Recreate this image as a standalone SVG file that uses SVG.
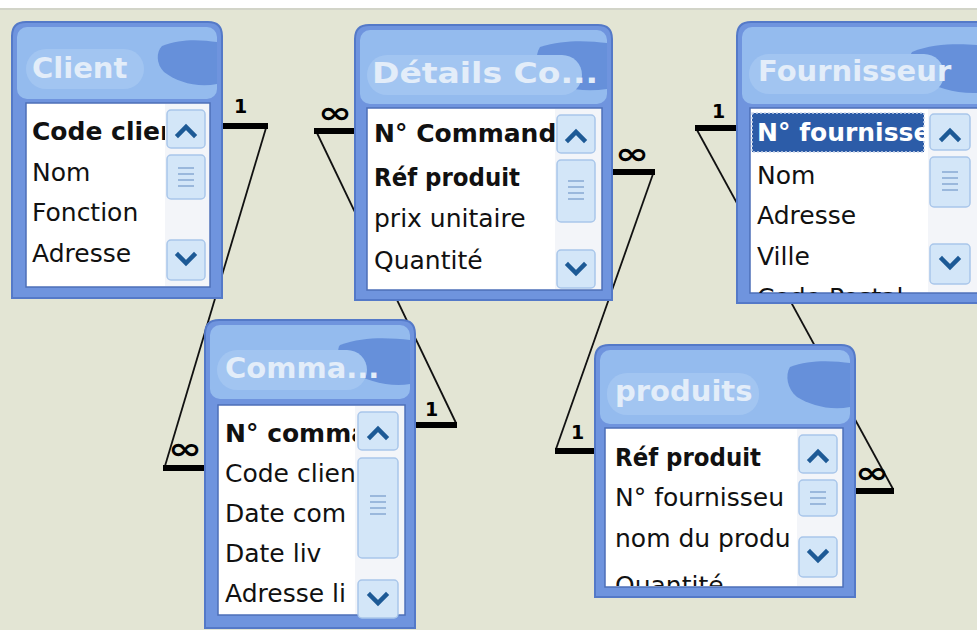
<svg xmlns="http://www.w3.org/2000/svg" width="977" height="630" viewBox="0 0 977 630">
<style>
.frame{fill:#6f94de;stroke:#5479c8;stroke-width:2}
.titlebg{fill:#94bbee}
.glow{fill:#a2c5f1}
.blotch{fill:#6690da}
.ttl{font-family:"DejaVu Sans",sans-serif;font-weight:bold;font-size:29px;fill:#e3edf9}
.list{fill:#fff;stroke:#4d6fb8;stroke-width:1.5}
.row{font-family:"DejaVu Sans",sans-serif;font-size:25px;fill:#111}
.key{font-weight:bold}
.sel{fill:#fff;font-weight:bold}
.selbg{fill:#2c5ca8;stroke:#c9d5ea;stroke-width:1.5;stroke-dasharray:2 2}
.sbtrack{fill:#f3f5f9}
.sbbtn{fill:#d3e6f8;stroke:#a9c6ea;stroke-width:1.5}
.chev{fill:none;stroke:#1d5a96;stroke-width:4.5;stroke-linecap:square}
.grip{stroke:#9ab8dc;stroke-width:2}
.bar{stroke:#000;stroke-width:6}
.link{stroke:#111;stroke-width:1.8;fill:none}
.card{font-family:"DejaVu Sans",sans-serif;font-weight:bold;font-size:19px;fill:#000}
.many{font-family:"DejaVu Sans",sans-serif;font-weight:bold;font-size:30px;fill:#000}
</style>
<defs>
<clipPath id="cClient"><rect x="14" y="81" width="139" height="184"/></clipPath>
<clipPath id="cDet"><rect x="12" y="83" width="188" height="182"/></clipPath>
<clipPath id="cFour"><rect x="13" y="86" width="178" height="185"/></clipPath>
<clipPath id="cCom"><rect x="13" y="85" width="137" height="210"/></clipPath>
<clipPath id="cProd"><rect x="10" y="83" width="192" height="158"/></clipPath>
</defs>
<rect x="0" y="0" width="977" height="630" fill="#e3e5d4"/>
<rect x="0" y="0" width="977" height="8" fill="#ffffff"/>
<rect x="0" y="8" width="977" height="2" fill="#d2d4c8"/>

<g id="connectors">
<line class="link" x1="266" y1="128" x2="165" y2="466"/>
<line class="link" x1="317" y1="133" x2="456" y2="423"/>
<line class="link" x1="653" y1="174" x2="556" y2="449"/>
<line class="link" x1="697" y1="130" x2="893" y2="489"/>
<line class="bar" x1="222" y1="126" x2="268" y2="126"/>
<line class="bar" x1="163" y1="468" x2="206" y2="468"/>
<line class="bar" x1="314" y1="131" x2="357" y2="131"/>
<line class="bar" x1="414" y1="425" x2="457" y2="425"/>
<line class="bar" x1="612" y1="172" x2="655" y2="172"/>
<line class="bar" x1="555" y1="451" x2="596" y2="451"/>
<line class="bar" x1="695" y1="128" x2="738" y2="128"/>
<line class="bar" x1="854" y1="491" x2="894" y2="491"/>
<text class="card" x="234" y="113">1</text>
<text class="card" x="425" y="416">1</text>
<text class="card" x="571" y="439">1</text>
<text class="card" x="712" y="118">1</text>
<text class="many" x="168" y="459" textLength="34" lengthAdjust="spacingAndGlyphs">∞</text>
<text class="many" x="318" y="123" textLength="34" lengthAdjust="spacingAndGlyphs">∞</text>
<text class="many" x="615" y="164" textLength="34" lengthAdjust="spacingAndGlyphs">∞</text>
<text class="many" x="855" y="483" textLength="34" lengthAdjust="spacingAndGlyphs">∞</text>
</g>

<g id="client" transform="translate(12,22)">
<path class="frame" d="M0,14 Q0,0 14,0 H196 Q210,0 210,14 V276 H0 Z"/>
<rect class="titlebg" x="5" y="5" width="200" height="72" rx="10"/>
<path class="blotch" d="M150,24 C170,16 190,18 205,20 V62 C185,66 165,60 152,50 C144,42 144,30 150,24 Z"/>
<rect class="glow" x="14" y="27" width="118" height="40" rx="20"/>
<text class="ttl" x="20" y="56">Client</text>
<rect class="list" x="14" y="81" width="184" height="184"/>
<rect class="sbtrack" x="153" y="82" width="44" height="182"/>
<rect class="sbbtn" x="155" y="88" width="38" height="38" rx="4"/>
<polyline class="chev" points="166,113 174,105 182,113"/>
<rect class="sbbtn" x="155" y="133" width="38" height="44" rx="4"/>
<path class="grip" d="M166,146H182M166,152H182M166,158H182M166,164H182"/>
<rect class="sbbtn" x="155" y="218" width="38" height="40" rx="4"/>
<polyline class="chev" points="166,233 174,241 182,233"/>
<g clip-path="url(#cClient)">
<text class="row key" x="20" y="118">Code clien</text>
<text class="row" x="20" y="159">Nom</text>
<text class="row" x="20" y="199">Fonction</text>
<text class="row" x="20" y="240">Adresse</text>
</g>
</g>

<g id="details" transform="translate(355,25)">
<path class="frame" d="M0,14 Q0,0 14,0 H243 Q257,0 257,14 V275 H0 Z"/>
<rect class="titlebg" x="5" y="5" width="247" height="74" rx="10"/>
<path class="blotch" d="M185,22 C210,14 235,16 252,18 V64 C225,68 200,62 188,52 C180,44 180,30 185,22 Z"/>
<rect class="glow" x="12" y="30" width="215" height="40" rx="20"/>
<text class="ttl" x="17" y="58" textLength="226" lengthAdjust="spacingAndGlyphs">Détails Co...</text>
<rect class="list" x="12" y="83" width="235" height="182"/>
<rect class="sbtrack" x="200" y="84" width="46" height="180"/>
<rect class="sbbtn" x="202" y="90" width="38" height="38" rx="4"/>
<polyline class="chev" points="213,115 221,107 229,115"/>
<rect class="sbbtn" x="202" y="135" width="38" height="62" rx="4"/>
<path class="grip" d="M213,156H229M213,162H229M213,168H229M213,174H229"/>
<rect class="sbbtn" x="202" y="225" width="38" height="38" rx="4"/>
<polyline class="chev" points="213,240 221,248 229,240"/>
<g clip-path="url(#cDet)">
<text class="row key" x="19" y="117">N° Commande</text>
<text class="row key" x="19" y="161" textLength="146" lengthAdjust="spacingAndGlyphs">Réf produit</text>
<text class="row" x="19" y="202">prix unitaire</text>
<text class="row" x="19" y="244">Quantité</text>
</g>
</g>

<g id="fournisseur" transform="translate(737,22)">
<path class="frame" d="M0,14 Q0,0 14,0 H250 V281 H0 Z"/>
<rect class="titlebg" x="5" y="5" width="250" height="77" rx="10"/>
<path class="blotch" d="M175,30 C200,20 230,22 250,24 V70 C225,74 200,66 186,58 C176,50 170,38 175,30 Z"/>
<rect class="glow" x="12" y="32" width="195" height="40" rx="20"/>
<text class="ttl" x="21" y="59">Fournisseur</text>
<rect class="list" x="13" y="86" width="240" height="185"/>
<rect class="sbtrack" x="191" y="87" width="52" height="183"/>
<rect class="sbbtn" x="193" y="92" width="40" height="36" rx="4"/>
<polyline class="chev" points="205,117 213,109 221,117"/>
<rect class="sbbtn" x="193" y="135" width="40" height="50" rx="4"/>
<path class="grip" d="M205,150H221M205,156H221M205,162H221M205,168H221"/>
<rect class="sbbtn" x="193" y="222" width="40" height="40" rx="4"/>
<polyline class="chev" points="205,237 213,245 221,237"/>
<rect class="selbg" x="15" y="91" width="172" height="39"/>
<g clip-path="url(#cFour)">
<text class="row sel" x="20" y="119">N° fournisseur</text>
<text class="row" x="20" y="162">Nom</text>
<text class="row" x="20" y="202">Adresse</text>
<text class="row" x="20" y="243">Ville</text>
<text class="row" x="20" y="284">Code Postal</text>
</g>
</g>

<g id="commandes" transform="translate(205,320)">
<path class="frame" d="M0,14 Q0,0 14,0 H196 Q210,0 210,14 V308 H0 Z"/>
<rect class="titlebg" x="5" y="5" width="200" height="74" rx="10"/>
<path class="blotch" d="M135,25 C160,16 185,18 205,20 V64 C185,68 160,60 146,52 C136,44 130,32 135,25 Z"/>
<rect class="glow" x="12" y="30" width="150" height="40" rx="20"/>
<text class="ttl" x="20" y="58">Comma...</text>
<rect class="list" x="13" y="85" width="187" height="210"/>
<rect class="sbtrack" x="150" y="86" width="49" height="208"/>
<rect class="sbbtn" x="153" y="92" width="40" height="38" rx="4"/>
<polyline class="chev" points="165,117 173,109 181,117"/>
<rect class="sbbtn" x="153" y="138" width="40" height="100" rx="4"/>
<path class="grip" d="M165,176H181M165,182H181M165,188H181M165,194H181"/>
<rect class="sbbtn" x="153" y="260" width="40" height="38" rx="4"/>
<polyline class="chev" points="165,275 173,283 181,275"/>
<g clip-path="url(#cCom)">
<text class="row key" x="20" y="122">N° comma</text>
<text class="row" x="20" y="162">Code clien</text>
<text class="row" x="20" y="202">Date com</text>
<text class="row" x="20" y="242">Date liv</text>
<text class="row" x="20" y="282">Adresse li</text>
</g>
</g>

<g id="produits" transform="translate(595,345)">
<path class="frame" d="M0,14 Q0,0 14,0 H246 Q260,0 260,14 V252 H0 Z"/>
<rect class="titlebg" x="5" y="5" width="250" height="74" rx="10"/>
<path class="blotch" d="M195,22 C215,14 240,16 255,18 V62 C235,66 215,60 202,52 C192,44 190,30 195,22 Z"/>
<rect class="glow" x="12" y="28" width="152" height="42" rx="20"/>
<text class="ttl" x="20" y="56">produits</text>
<rect class="list" x="10" y="83" width="238" height="159"/>
<rect class="sbtrack" x="202" y="84" width="45" height="157"/>
<rect class="sbbtn" x="204" y="90" width="38" height="38" rx="4"/>
<polyline class="chev" points="215,115 223,107 231,115"/>
<rect class="sbbtn" x="204" y="135" width="38" height="36" rx="4"/>
<path class="grip" d="M215,147H231M215,153H231M215,159H231"/>
<rect class="sbbtn" x="204" y="192" width="38" height="40" rx="4"/>
<polyline class="chev" points="215,207 223,215 231,207"/>
<g clip-path="url(#cProd)">
<text class="row key" x="20" y="121" textLength="146" lengthAdjust="spacingAndGlyphs">Réf produit</text>
<text class="row" x="20" y="161">N° fournisseu</text>
<text class="row" x="20" y="202">nom du produ</text>
<text class="row" x="20" y="249">Quantité</text>
</g>
</g>
</svg>
